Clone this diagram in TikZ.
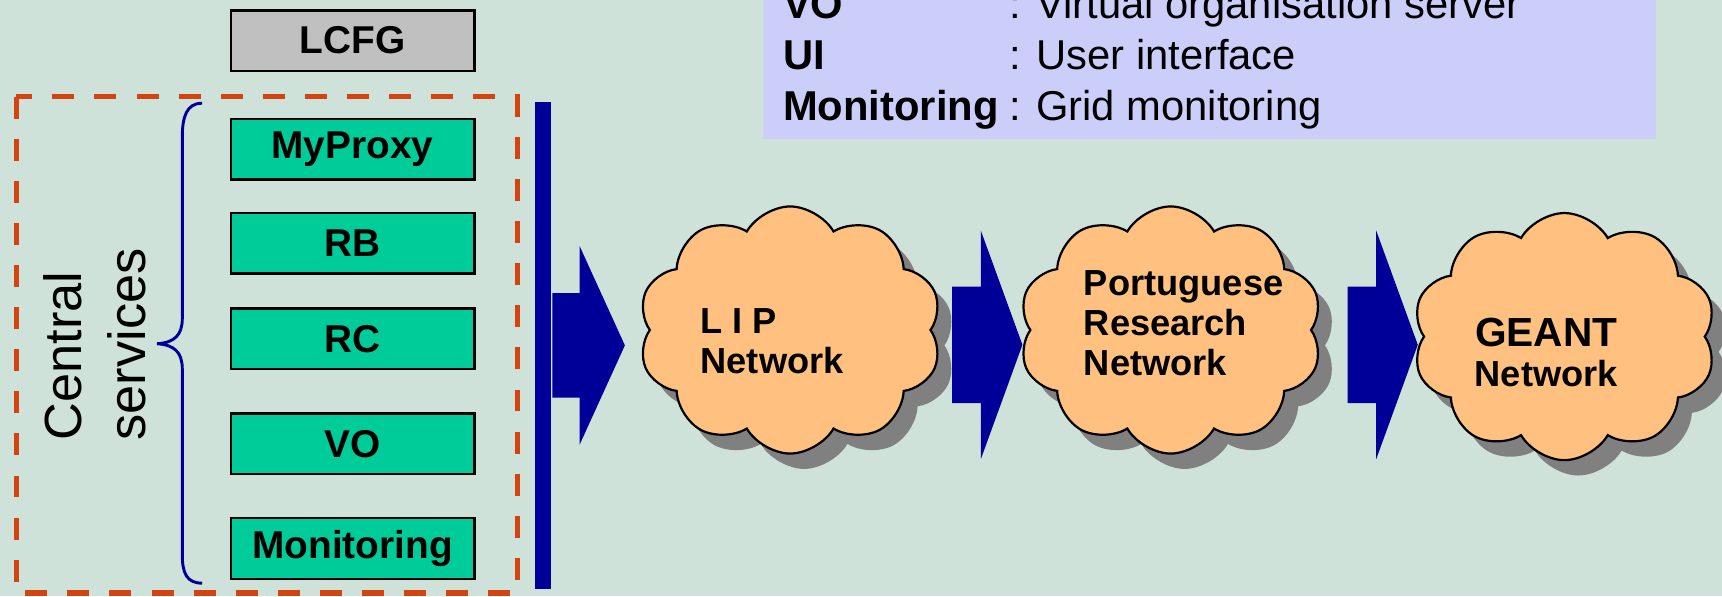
\documentclass[tikz,border=0pt]{standalone}
\usepackage{fontspec}
\setmainfont{Liberation Sans}
\usetikzlibrary{shapes.symbols,shapes.arrows,shadows}

\definecolor{panel}{RGB}{207,226,218}
\definecolor{svcgreen}{RGB}{0,204,153}
\definecolor{silver}{RGB}{192,192,192}
\definecolor{peach}{RGB}{255,192,128}
\definecolor{shade}{RGB}{128,128,128}
\definecolor{navy}{RGB}{0,0,153}
\definecolor{dashred}{RGB}{212,68,16}
\definecolor{lilac}{RGB}{204,206,250}

\tikzstyle{svc}=[shape=rectangle,
	       fill=svcgreen,
	       draw=black,
	       line width=0.6pt,
	       minimum width=66.6pt,
	       minimum height=16.5pt,
	       font=\fontsize{10.6}{12}\selectfont\bfseries]
\tikzstyle{net}=[shape=cloud,
	       cloud puffs=10,
	       cloud puff arc=120,
	       cloud ignores aspect,
	       fill=peach,
	       draw=black,
	       line width=0.6pt,
	       drop shadow={shadow xshift=3.8pt,shadow yshift=-4.2pt,fill=shade,opacity=1},
	       minimum width=83pt,
	       minimum height=67.5pt]
\tikzstyle{nettext}=[align=left,
	       inner sep=0pt,
	       font=\fontsize{9.9}{11}\selectfont\bfseries]
\tikzstyle{pipe}=[shape=single arrow,
	       fill=navy,
	       inner xsep=0pt,
	       inner ysep=15.6pt,
	       single arrow head extend=15.3pt,
	       single arrow tip angle=140,
	       minimum height=19.2pt]
\tikzstyle{key}=[anchor=base west,
	       inner sep=0pt,
	       font=\fontsize{11.4}{13}\selectfont\bfseries]
\tikzstyle{entry}=[anchor=base west,
	       inner sep=0pt,
	       font=\fontsize{11.4}{13}\selectfont]

\begin{document}
\begin{tikzpicture}[x=0.3pt,y=-0.3pt,semithick]

% backdrop, fixes the size of the page
\fill[panel] (0,0) rectangle (1568,543);
\useasboundingbox (0,0) rectangle (1568,543);
\clip (0,0) rectangle (1568,543);

% legend panel, cut off by the top edge
\fill[lilac] (695,-10) rectangle (1508,127);
\node[key] (kvo) at (712,16.5) {VO};
\node[entry] (evo) at (918,16.5) {: Virtual organisation server};
\node[key] (kui) at (712,63) {UI};
\node[entry] (eui) at (918,63) {: User interface};
\node[key] (kmon) at (712,109.5) {Monitoring};
\node[entry] (emon) at (918,109.5) {: Grid monitoring};

% installation server
\node[svc, fill=silver] (lcfg) at (321,37) {LCFG};

% central services stacked from MyProxy downwards
\node[svc] (myproxy) at (321,136) {MyProxy};
\path (myproxy) ++(0,85.5) node (rb) [svc] {RB};
\path (rb) ++(0,87) node (rc) [svc] {RC};
\path (rc) ++(0,95.5) node (vo) [svc] {VO};
\path (vo) ++(0,95.5) node (mon) [svc] {Monitoring};

% dashed frame, brace and its label
\draw[dashred, line width=1.4pt, dash pattern=on 6pt off 5.5pt] (15,88) rectangle (471,540);
\draw[navy, line width=0.8pt] (184,94) .. controls (170,94) and (166,106) .. (166,125) -- (166,290)
  .. controls (166,305) and (159,312) .. (143,313) .. controls (159,314) and (166,321) .. (166,336)
  -- (166,505) .. controls (166,522) and (170,531) .. (184,531);
\node[rotate=90, align=left, anchor=west, inner sep=0pt,
      font=\fontsize{14.3}{17.4}\selectfont] (central) at (86.5,402) {Central\\services};

% backbone bar
\fill[navy] (487,93) rectangle (502,536);

% network clouds
\node[net] (lip) at (719.5,300.5) {};
\path (lip) ++(346.5,0) node (rcts) [net] {};
\path (rcts) ++(358.5,6) node (geant) [net] {};

\path (lip) ++(-82.5,10.5) node (liptext) [nettext, anchor=west] {L I P\\Network};
\path (rcts) ++(-80,-6) node (rctstext) [nettext, anchor=west] {Portuguese\\Research\\Network};
\path (geant) ++(-16.5,14.5) node (geanttext) [nettext, align=center]
  {{\fontsize{11.1}{11.1}\selectfont GEANT}\\Network};

% block arrows from the bar to the clouds
\node[pipe, anchor=tail, inner ysep=13.95pt, single arrow head extend=12.9pt,
      single arrow tip angle=131, minimum height=19.8pt] (tolip) at (502,314.5) {};
\path (lip) ++(146.5,13.5) node (torcts) [pipe, anchor=tail] {};
\path (rcts) ++(160,13.5) node (togeant) [pipe, anchor=tail] {};

\end{tikzpicture}
\end{document}
